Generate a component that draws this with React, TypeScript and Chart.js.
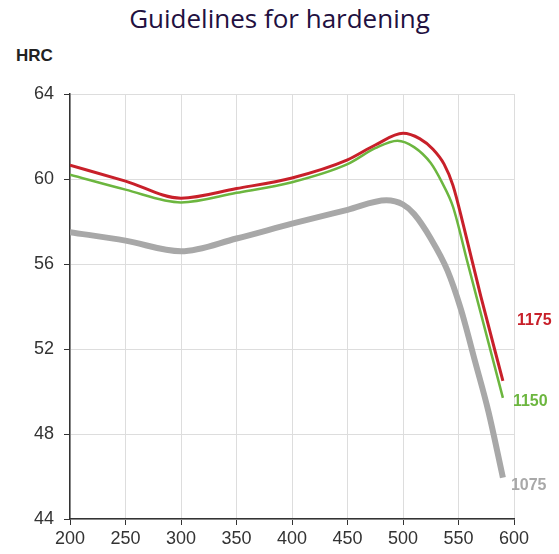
import React, { useEffect, useRef } from "react";
import { Chart, registerables } from "chart.js";

Chart.register(...registerables);

const chartTitle = "Guidelines for hardening";
const yAxisTitle = "HRC";

const redTemps = [200, 250, 300, 350, 400, 450, 475, 500, 515, 527, 537, 545, 555, 570, 590];
const redHRC = [60.65, 59.9, 59.1, 59.55, 60.05, 60.9, 61.6, 62.15, 61.9, 61.4, 60.7, 59.7, 57.7, 54.5, 50.5];
const redLabel = "1175";

const greenTemps = [200, 250, 300, 350, 400, 450, 475, 495, 510, 525, 535, 545, 558, 570, 590];
const greenHRC = [60.2, 59.5, 58.9, 59.35, 59.85, 60.7, 61.45, 61.8, 61.5, 60.75, 59.85, 58.7, 56.1, 53.7, 49.7];
const greenLabel = "1150";

const grayTemps = [200, 250, 300, 350, 400, 450, 485, 500, 510, 525, 540, 552, 565, 577, 590];
const grayHRC = [57.5, 57.1, 56.6, 57.2, 57.9, 58.55, 59.0, 58.8, 58.35, 57.2, 55.7, 53.9, 51.4, 49.05, 45.95];
const grayLabel = "1075";

const xTicks = [200, 250, 300, 350, 400, 450, 500, 550, 600];
const yTicks = [44, 48, 52, 56, 60, 64];

const toPoints = (xs: number[], ys: number[]) => xs.map((x, i) => ({ x, y: ys[i] }));

const endLabels = {
  id: "endLabels",
  afterDatasetsDraw(chart: any) {
    const ctx = chart.ctx;
    const offsets = [
      { dx: 14, dy: -60 },
      { dx: 10, dy: 4 },
      { dx: 8, dy: 8 },
    ];
    chart.data.datasets.forEach((ds: any, i: number) => {
      const meta = chart.getDatasetMeta(i);
      const last = meta.data[meta.data.length - 1];
      if (!last) return;
      ctx.save();
      ctx.font = "bold 16px 'Liberation Sans', Arial, sans-serif";
      ctx.fillStyle = ds.labelColor;
      ctx.textAlign = "left";
      ctx.textBaseline = "middle";
      ctx.fillText(ds.label, last.x + offsets[i].dx, last.y + offsets[i].dy);
      ctx.restore();
    });
  },
};

export default function App() {
  const canvasRef = useRef<HTMLCanvasElement | null>(null);

  useEffect(() => {
    if (!canvasRef.current) return;
    const chart = new Chart(canvasRef.current, {
      type: "line",
      data: {
        datasets: [
          {
            label: redLabel,
            data: toPoints(redTemps, redHRC),
            borderColor: "#c8202a",
            borderWidth: 3,
            pointRadius: 0,
            cubicInterpolationMode: "monotone",
            labelColor: "#c8202a",
          } as any,
          {
            label: greenLabel,
            data: toPoints(greenTemps, greenHRC),
            borderColor: "#6cb63f",
            borderWidth: 2.5,
            pointRadius: 0,
            cubicInterpolationMode: "monotone",
            labelColor: "#6cb63f",
          } as any,
          {
            label: grayLabel,
            data: toPoints(grayTemps, grayHRC),
            borderColor: "#a8a8a8",
            borderWidth: 6,
            pointRadius: 0,
            cubicInterpolationMode: "monotone",
            labelColor: "#a8a8a8",
          } as any,
        ],
      },
      options: {
        animation: false,
        responsive: true,
        maintainAspectRatio: false,
        layout: { padding: { top: 94, right: 45, left: 0, bottom: 0 } },
        plugins: {
          legend: { display: false },
          tooltip: { enabled: false },
          title: { display: false },
        },
        scales: {
          x: {
            type: "linear",
            min: 200,
            max: 600,
            afterBuildTicks: (scale: any) => {
              scale.ticks = xTicks.map((v) => ({ value: v }));
            },
            afterFit: (scale: any) => {
              scale.height = 35;
            },
            ticks: {
              color: "#333333",
              font: { family: "'Liberation Sans', Arial, sans-serif", size: 18 },
              padding: 3,
              maxRotation: 0,
            },
            grid: {
              color: "#dddddd",
              tickColor: "#333333",
              tickLength: 6,
              lineWidth: 1,
            },
            border: { color: "#333333", width: 1.5 },
          },
          y: {
            type: "linear",
            min: 44,
            max: 64,
            afterBuildTicks: (scale: any) => {
              scale.ticks = yTicks.map((v) => ({ value: v }));
            },
            afterFit: (scale: any) => {
              scale.width = 70;
            },
            ticks: {
              color: "#333333",
              font: { family: "'Liberation Sans', Arial, sans-serif", size: 18 },
              padding: 10,
            },
            grid: {
              color: "#dddddd",
              tickColor: "#333333",
              tickLength: 6,
              lineWidth: 1,
            },
            border: { color: "#333333", width: 1.5 },
          },
        },
      },
      plugins: [endLabels],
    });
    return () => chart.destroy();
  }, []);

  return (
    <div style={{ position: "absolute", left: 0, top: 0, width: 559, height: 554, background: "#ffffff" }}>
      <div
        style={{
          position: "absolute",
          left: 0,
          top: 0,
          width: 559,
          textAlign: "center",
          fontFamily: "'Open Sans', 'Noto Sans', sans-serif",
          fontSize: 26,
          color: "#22103f",
          lineHeight: "36px",
        }}
      >
        {chartTitle}
      </div>
      <div
        style={{
          position: "absolute",
          left: 16,
          top: 46,
          fontFamily: "'Liberation Sans', Arial, sans-serif",
          fontWeight: "bold",
          fontSize: 17,
          color: "#222222",
          lineHeight: "20px",
        }}
      >
        {yAxisTitle}
      </div>
      <div style={{ position: "absolute", left: 0, top: 0, width: 559, height: 554 }}>
        <canvas ref={canvasRef} />
      </div>
    </div>
  );
}
